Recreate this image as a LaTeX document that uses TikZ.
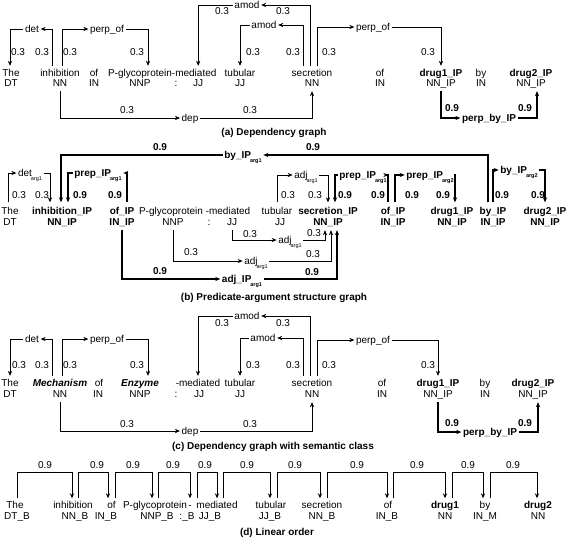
\documentclass[tikz,border=0pt]{standalone}
\usepackage{fontspec}
\setmainfont{Liberation Sans}
\usetikzlibrary{arrows.meta}
\newcommand\fsz{\fontsize{10}{12}\selectfont}
\newcommand\sbs[1]{\kern-1pt\raisebox{-4.3pt}{\fontsize{5.5}{6}\selectfont #1}}
\begin{document}
\begin{tikzpicture}[x=1pt,y=-1pt,
  wd/.style={font=\fsz, anchor=base, inner xsep=0pt, inner ysep=2.5pt, text height=7.5pt, text depth=2pt},
  wdb/.style={wd, inner ysep=4pt},
  bf/.style={font=\fsz\bfseries},
  bi/.style={font=\fsz\bfseries\itshape},
  lb/.style={font=\fsz, inner xsep=1.5pt, inner ysep=0pt, text height=7pt, text depth=0pt, anchor=center},
  lbb/.style={lb, font=\fsz\bfseries},
  nm/.style={font=\fsz, inner sep=0pt, anchor=center},
  nmb/.style={nm, font=\fsz\bfseries},
  capt/.style={font=\fsz\bfseries, inner sep=0pt, anchor=center},
  ar/.style={-{Stealth[length=5pt,width=4.2pt]}, line width=0.6pt},
  arb/.style={ar, line width=1.2pt},
  ard/.style={ar, line width=0.9pt}]
\useasboundingbox (0,0) rectangle (567,539);

% ================= (a) =================
\node[wd] (the_a) at (11,76) {The};
\node[wd] (the_at) at (11,86.5) {DT};
\node[wd] (inh_a) at (60,76) {inhibition};
\node[wd] (inh_at) at (60,86.5) {NN};
\node[wd] (of_a) at (94,76) {of};
\node[wd] (of_at) at (94,86.5) {IN};
\node[wd] (pg_a) at (140,76) {P-glycoprotein};
\node[wd] (pg_at) at (140,86.5) {NNP};
\node[wd] (med_a) at (194.2,76) {-mediated};
\node[wd] (col_a) at (176,86.5) {:};
\node[wd] (med_at) at (198,86.5) {JJ};
\node[wd] (tub_a) at (240,76) {tubular};
\node[wd] (tub_at) at (240,86.5) {JJ};
\node[wd] (sec_a) at (312,76) {secretion};
\node[wd] (sec_at) at (312,86.5) {NN};
\node[wd] (of2_a) at (380,76) {of};
\node[wd] (of2_at) at (380,86.5) {IN};
\node[wd,bf] (d1_a) at (441,76) {drug1\_IP};
\node[wd] (d1_at) at (441,86.5) {NN\_IP};
\node[wd] (by_a) at (481,76) {by};
\node[wd] (by_at) at (481,86.5) {IN};
\node[wd,bf] (d2_a) at (531,76) {drug2\_IP};
\node[wd] (d2_at) at (531,86.5) {NN\_IP};

\node[lb] (det_a) at (32,29) {det};
\draw[ar] ([xshift=-8pt]inh_a.north) |- (det_a.east);
\draw[ar] (det_a.west) -| ([xshift=-1pt]the_a.north);
\node[nm] (na1) at (18,52) {0.3};
\node[nm] (na2) at (42,52) {0.3};

\node[lb] (po1_a) at (107,29) {perp\_of};
\draw[ar] ([xshift=2pt]inh_a.north) |- (po1_a.west);
\draw[ar] (po1_a.east) -| ([xshift=8pt]pg_a.north);
\node[nm] (na3) at (70,52) {0.3};
\node[nm] (na4) at (137,52) {0.3};

\node[lb] (dep_a) at (190,118) {dep};
\draw[ar] (inh_at.south) |- (dep_a.west);
\draw[ar] (dep_a.east) -| (sec_at.south);
\node[nm] (na5) at (127,110) {0.3};
\node[nm] (na6) at (250,110) {0.3};

\node[lb] (am1_a) at (247,5) {amod};
\draw[ar] ([xshift=-2pt]sec_a.north) |- (am1_a.east);
\draw[ar] (am1_a.west) -| ([xshift=4pt]med_a.north);
\node[nm] (na7) at (222,11) {0.3};
\node[nm] (na8) at (283,11) {0.3};

\node[lb] (am2_a) at (264,25) {amod};
\draw[ar] ([xshift=-9pt]sec_a.north) |- (am2_a.east);
\draw[ar] (am2_a.west) -| (tub_a.north);
\node[nm] (na9) at (253,52) {0.3};
\node[nm] (na10) at (293,52) {0.3};

\node[lb] (po2_a) at (373,27) {perp\_of};
\draw[ar] ([xshift=5pt]sec_a.north) |- (po2_a.west);
\draw[ar] (po2_a.east) -| (d1_a.north);
\node[nm] (na11) at (329,52) {0.3};
\node[nm] (na12) at (428,52) {0.3};

\node[lbb] (pb_a) at (489,118) {perp\_by\_IP};
\draw[arb] (d1_at.south) |- (pb_a.west);
\draw[arb] (pb_a.east) -| ([xshift=6pt]d2_at.south);
\node[nmb] (na13) at (452,108) {0.9};
\node[nmb] (na14) at (525,108) {0.9};

\node[capt] (cap_a) at (274,133) {(a) Dependency graph};

% ================= (b) =================
\node[wdb] (the_b) at (10,214) {The};
\node[wd] (the_bt) at (10,225.5) {DT};
\node[wdb,bf] (inh_b) at (62,214) {inhibition\_IP};
\node[wd,bf] (inh_bt) at (62,225.5) {NN\_IP};
\node[wdb,bf] (of_b) at (122,214) {of\_IP};
\node[wd,bf] (of_bt) at (122,225.5) {IN\_IP};
\node[wdb] (pg_b) at (171,214) {P-glycoprotein};
\node[wd] (pg_bt) at (173,225.5) {NNP};
\node[wdb] (med_b) at (228,214) {-mediated};
\node[wd] (col_b) at (209,225.5) {:};
\node[wd] (med_bt) at (232,225.5) {JJ};
\node[wdb] (tub_b) at (277,214) {tubular};
\node[wd] (tub_bt) at (280,225.5) {JJ};
\node[wdb,bf] (sec_b) at (328,214) {secretion\_IP};
\node[wd,bf] (sec_bt) at (328,225.5) {NN\_IP};
\node[wdb,bf] (of2_b) at (393,214) {of\_IP};
\node[wd,bf] (of2_bt) at (393,225.5) {IN\_IP};
\node[wdb,bf] (d1_b) at (452,214) {drug1\_IP};
\node[wd,bf] (d1_bt) at (452,225.5) {NN\_IP};
\node[wdb,bf] (by_b) at (493,214) {by\_IP};
\node[wd,bf] (by_bt) at (493,225.5) {IN\_IP};
\node[wdb,bf] (d2_b) at (545,214) {drug2\_IP};
\node[wd,bf] (d2_bt) at (545,225.5) {NN\_IP};

\node[lbb] (bya1) at (243,155) {by\_IP\sbs{arg1}};
\draw[arb] ([xshift=-5pt]by_b.north) |- (bya1.east);
\draw[arb] (bya1.west) -| ([xshift=-1pt]inh_b.north);
\node[nmb] (nb1) at (160,147) {0.9};
\node[nmb] (nb2) at (313,147) {0.9};

\node[lb] (deta) at (30,173) {det\sbs{arg1}};
\draw[ar] ([xshift=-2pt]the_b.north) |- (deta.west);
\draw[ar] (deta.east) -| ([xshift=-12pt]inh_b.north);
\node[nm] (nb3) at (19,195) {0.3};
\node[nm] (nb4) at (42,195) {0.3};

\node[lbb] (pa1) at (98,173) {prep\_IP\sbs{arg1}};
\draw[arb] ([xshift=5pt]of_b.north) |- (pa1.east);
\draw[arb] (pa1.west) -| ([xshift=6pt]inh_b.north);
\node[nmb] (nb5) at (80,195) {0.9};
\node[nmb] (nb6) at (115,195) {0.9};

\node[lbb] (adjip) at (242,279) {adj\_IP\sbs{arg1}};
\draw[arb] (of_bt.south) |- (adjip.west);
\draw[arb] (adjip.east) -| ([xshift=9pt]sec_bt.south);
\node[nmb] (nb7) at (160,271) {0.9};
\node[nmb] (nb8) at (312,272) {0.9};

\node[lb] (adjb) at (256,261) {adj\sbs{arg1}};
\draw[ar] (pg_bt.south) |- (adjb.west);
\draw[ar] (adjb.east) -| ([xshift=3pt]sec_bt.south);
\node[nm] (nb9) at (191,252) {0.3};
\node[nm] (nb10) at (313,254) {0.3};

\node[lb] (adjc) at (290,240) {adj\sbs{arg1}};
\draw[ar] (med_bt.south) |- (adjc.west);
\draw[ar] (adjc.east) -| ([xshift=-3pt]sec_bt.south);
\node[nm] (nb11) at (250,234) {0.3};
\node[nm] (nb12) at (314,233) {0.3};

\node[lb] (adjd) at (306,175) {adj\sbs{arg1}};
\draw[ar] (tub_b.north) |- (adjd.west);
\draw[ar] (adjd.east) -| (sec_b.north);
\node[nm] (nb13) at (288,195) {0.3};
\node[nm] (nb14) at (315,195) {0.3};

\node[lbb] (pa1r) at (363,175) {prep\_IP\sbs{arg1}};
\draw[arb] ([xshift=-5pt]of2_b.north) |- (pa1r.east);
\draw[arb] (pa1r.west) -| ([xshift=7pt]sec_b.north);
\node[nmb] (nb15) at (345,195) {0.9};
\node[nmb] (nb16) at (378,195) {0.9};

\node[lbb] (pa2) at (430,175) {prep\_IP\sbs{arg2}};
\draw[arb] ([xshift=2pt]of2_b.north) |- (pa2.west);
\draw[arb] (pa2.east) -| ([xshift=3pt]d1_b.north);
\node[nmb] (nb17) at (412,195) {0.9};
\node[nmb] (nb18) at (443,195) {0.9};

\node[lbb] (bya2) at (519,170) {by\_IP\sbs{arg2}};
\draw[arb] (by_b.north) |- (bya2.west);
\draw[arb] (bya2.east) -| (d2_b.north);
\node[nmb] (nb19) at (502,195) {0.9};
\node[nmb] (nb20) at (538,195) {0.9};

\node[capt] (cap_b) at (274,298) {(b) Predicate-argument structure graph};

% ================= (c) =================
\node[wd] (the_c) at (10,386) {The};
\node[wd] (the_ct) at (10,397.5) {DT};
\node[wd,bi] (mech_c) at (60,386) {Mechanism};
\node[wd] (mech_ct) at (60,397.5) {NN};
\node[wd] (of_c) at (99,386) {of};
\node[wd] (of_ct) at (98,397.5) {IN};
\node[wd,bi] (enz_c) at (140,386) {Enzyme};
\node[wd] (enz_ct) at (140,397.5) {NNP};
\node[wd] (med_c) at (198,386) {-mediated};
\node[wd] (col_c) at (176,397.5) {:};
\node[wd] (med_ct) at (199,397.5) {JJ};
\node[wd] (tub_c) at (240,386) {tubular};
\node[wd] (tub_ct) at (240,397.5) {JJ};
\node[wd] (sec_c) at (312,386) {secretion};
\node[wd] (sec_ct) at (312,397.5) {NN};
\node[wd] (of2_c) at (382,386) {of};
\node[wd] (of2_ct) at (382,397.5) {IN};
\node[wd,bf] (d1_c) at (438,386) {drug1\_IP};
\node[wd] (d1_ct) at (438,397.5) {NN\_IP};
\node[wd] (by_c) at (485,386) {by};
\node[wd] (by_ct) at (485,397.5) {IN};
\node[wd,bf] (d2_c) at (533,386) {drug2\_IP};
\node[wd] (d2_ct) at (533,397.5) {NN\_IP};

\node[lb] (det_c) at (32,339) {det};
\draw[ar] ([xshift=-8pt]mech_c.north) |- (det_c.east);
\draw[ar] (det_c.west) -| (the_c.north);
\node[nm] (nc1) at (19,365) {0.3};
\node[nm] (nc2) at (42,365) {0.3};

\node[lb] (po1_c) at (107,339) {perp\_of};
\draw[ar] ([xshift=2pt]mech_c.north) |- (po1_c.west);
\draw[ar] (po1_c.east) -| ([xshift=8pt]enz_c.north);
\node[nm] (nc3) at (70,365) {0.3};
\node[nm] (nc4) at (137,365) {0.3};

\node[lb] (dep_c) at (190,431) {dep};
\draw[ar] (mech_ct.south) |- (dep_c.west);
\draw[ar] (dep_c.east) -| (sec_ct.south);
\node[nm] (nc5) at (127,424) {0.3};
\node[nm] (nc6) at (250,424) {0.3};

\node[lb] (am1_c) at (247,316) {amod};
\draw[ar] ([xshift=-2pt]sec_c.north) |- (am1_c.east);
\draw[ar] (am1_c.west) -| (med_c.north);
\node[nm] (nc7) at (222,323) {0.3};
\node[nm] (nc8) at (283,323) {0.3};

\node[lb] (am2_c) at (263,338) {amod};
\draw[ar] ([xshift=-9pt]sec_c.north) |- (am2_c.east);
\draw[ar] (am2_c.west) -| (tub_c.north);
\node[nm] (nc9) at (253,365) {0.3};
\node[nm] (nc10) at (293,365) {0.3};

\node[lb] (po2_c) at (373,340) {perp\_of};
\draw[ar] ([xshift=5pt]sec_c.north) |- (po2_c.west);
\draw[ar] (po2_c.east) -| (d1_c.north);
\node[nm] (nc11) at (329,365) {0.3};
\node[nm] (nc12) at (428,365) {0.3};

\node[lbb] (pb_c) at (490,432) {perp\_by\_IP};
\draw[arb] (d1_ct.south) |- (pb_c.west);
\draw[arb] (pb_c.east) -| ([xshift=5pt]d2_ct.south);
\node[nmb] (nc13) at (452,423) {0.9};
\node[nmb] (nc14) at (525,423) {0.9};

\node[capt] (cap_c) at (273,447) {(c) Dependency graph with semantic class};

% ================= (d) =================
\node[wd] (the_d) at (15,508.5) {The};
\node[wd] (the_dt) at (17,519.5) {DT\_B};
\node[wd] (inh_d) at (73,508.5) {inhibition};
\node[wd] (inh_dt) at (75,519.5) {NN\_B};
\node[wd] (of_d) at (111.5,508.5) {of};
\node[wd] (of_dt) at (106,519.5) {IN\_B};
\node[wd] (pg_d) at (155,508.5) {P-glycoprotein};
\node[wd] (pg_dt) at (157,519.5) {NNP\_B};
\node[wd] (dash_d) at (190,508.5) {-};
\node[wd] (dash_dt) at (187,519.5) {:\_B};
\node[wd] (med_d) at (217,508.5) {mediated};
\node[wd] (med_dt) at (210,519.5) {JJ\_B};
\node[wd] (tub_d) at (271,508.5) {tubular};
\node[wd] (tub_dt) at (270,519.5) {JJ\_B};
\node[wd] (sec_d) at (322,508.5) {secretion};
\node[wd] (sec_dt) at (322,519.5) {NN\_B};
\node[wd] (of2_d) at (388,508.5) {of};
\node[wd] (of2_dt) at (387,519.5) {IN\_B};
\node[wd,bf] (d1_d) at (445,508.5) {drug1};
\node[wd] (d1_dt) at (445,519.5) {NN};
\node[wd] (by_d) at (485,508.5) {by};
\node[wd] (by_dt) at (485,519.5) {IN\_M};
\node[wd,bf] (d2_d) at (538,508.5) {drug2};
\node[wd] (d2_dt) at (538,519.5) {NN};

\draw[ard] ([xshift=2pt]the_d.north) -- ++(0,-25.5) -| ([xshift=-1pt]inh_d.north);
\draw[ard] ([xshift=5pt]inh_d.north) -- ++(0,-25.5) -| ([xshift=-3.5pt]of_d.north);
\draw[ard] ([xshift=3.5pt]of_d.north) -- ++(0,-25.5) -| ([xshift=-3pt]pg_d.north);
\draw[ard] ([xshift=3pt]pg_d.north) -- ++(0,-25.5) -| (dash_d.north);
\draw[ard] ([xshift=7pt]dash_d.north) -- ++(0,-25.5) -| (med_d.north);
\draw[ard] ([xshift=6pt]med_d.north) -- ++(0,-25.5) -| ([xshift=-1pt]tub_d.north);
\draw[ard] ([xshift=6pt]tub_d.north) -- ++(0,-25.5) -| ([xshift=-2pt]sec_d.north);
\draw[ard] ([xshift=5pt]sec_d.north) -- ++(0,-25.5) -| ([xshift=-1pt]of2_d.north);
\draw[ard] ([xshift=5pt]of2_d.north) -- ++(0,-25.5) -| (d1_d.north);
\draw[ard] ([xshift=7pt]d1_d.north) -- ++(0,-25.5) -| ([xshift=-2pt]by_d.north);
\draw[ard] ([xshift=5pt]by_d.north) -- ++(0,-25.5) -| ([xshift=-1pt]d2_d.north);
\node[nm] (nd1) at (45,465) {0.9};
\node[nm] (nd2) at (97,465) {0.9};
\node[nm] (nd3) at (133,465) {0.9};
\node[nm] (nd4) at (173,465) {0.9};
\node[nm] (nd5) at (205,465) {0.9};
\node[nm] (nd6) at (247,465) {0.9};
\node[nm] (nd7) at (295,465) {0.9};
\node[nm] (nd8) at (357,465) {0.9};
\node[nm] (nd9) at (417,465) {0.9};
\node[nm] (nd10) at (468,465) {0.9};
\node[nm] (nd11) at (513,465) {0.9};

\node[capt] (cap_d) at (277,533) {(d) Linear order};
\end{tikzpicture}
\end{document}
